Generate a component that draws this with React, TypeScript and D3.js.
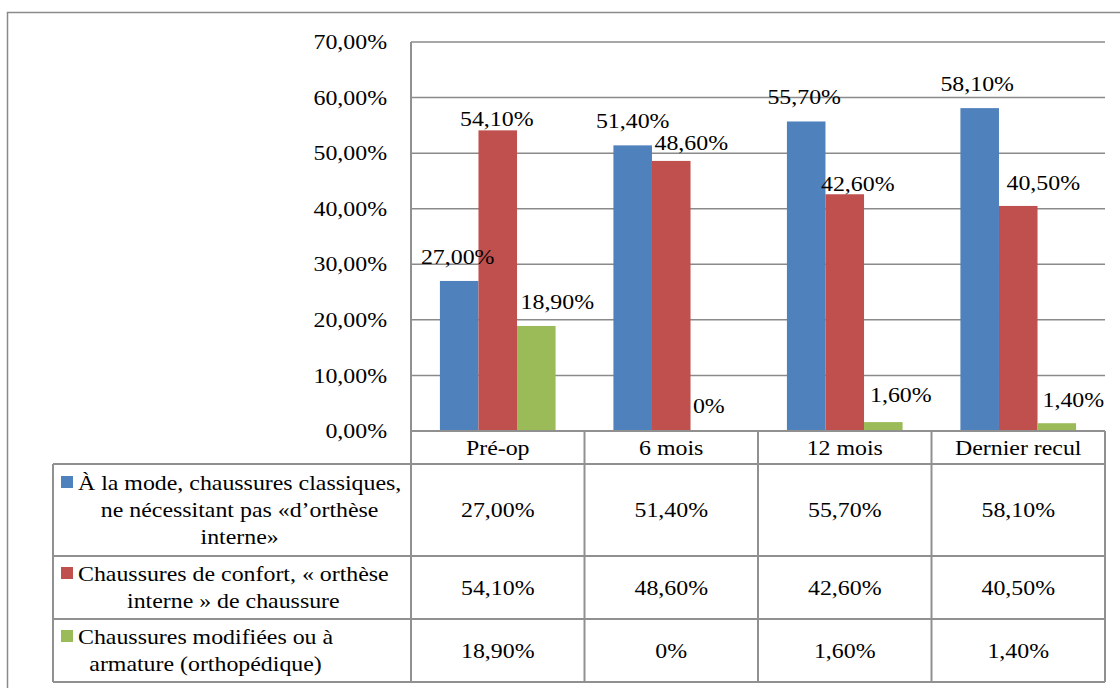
import React, { useEffect, useRef } from "react";
import * as d3 from "d3";

const categories = ["Pré-op", "6 mois", "12 mois", "Dernier recul"];
const seriesKeys = ["mode", "confort", "modifiees"];
const fashionValues = [27.0, 51.4, 55.7, 58.1];
const comfortValues = [54.1, 48.6, 42.6, 40.5];
const modifiedValues = [18.9, 0, 1.6, 1.4];
const seriesValues = [fashionValues, comfortValues, modifiedValues];
const seriesColors = ["#4F81BD", "#C0504D", "#9BBB59"];
const legendLines = [
  ["À la mode, chaussures classiques,", "ne nécessitant pas «d’orthèse", "interne»"],
  ["Chaussures de confort, « orthèse", "interne » de chaussure"],
  ["Chaussures modifiées ou à", "armature (orthopédique)"],
];
const yTicks = [0, 10, 20, 30, 40, 50, 60, 70];
// label placement tweaks (dx from bar centre, distance above bar top), as in the original
const labelOffsets = [
  [[-1.5, 24], [0, 25], [-2, 25], [-2.5, 24]],
  [[-1, 11.5], [20, 18], [13, 10], [25, 23]],
  [[21, 24], [-1, 25], [17.5, 27], [16.5, 23.5]],
];

const W = 1120;
const H = 688;
const FONT = "'Liberation Serif', 'Times New Roman', serif";
const FS = 22;
const SX = 1.085;

const fmt = (v: number) => (v === 0 ? "0%" : v.toFixed(2).replace(".", ",") + "%");

export default function App() {
  const ref = useRef<SVGSVGElement>(null);

  useEffect(() => {
    const svg = d3.select(ref.current);
    svg.selectAll("*").remove();

    const plotLeft = 411, plotRight = 1105, plotTop = 42, plotBottom = 431;
    const tableLeft = 53;
    const rowBounds = [431, 464, 556, 619, 682];
    const gridColor = "#8a8a8a";
    const tableColor = "#909090";

    const y = d3.scaleLinear().domain([0, 70]).range([plotBottom, plotTop]);
    const x = d3.scaleBand<string>().domain(categories).range([plotLeft, plotRight]);
    const xi = d3
      .scaleBand<string>()
      .domain(seriesKeys)
      .range([0, x.bandwidth()])
      .paddingInner(0)
      .paddingOuter(0.75);

    const txt = (g: any, tx: number, ty: number, s: string, anchor = "middle") =>
      g
        .append("text")
        .attr("transform", `translate(${tx},${ty}) scale(${SX},1)`)
        .attr("text-anchor", anchor)
        .attr("dominant-baseline", "central")
        .attr("font-family", FONT)
        .attr("font-size", FS)
        .attr("fill", "#000")
        .text(s);

    // outer chart border (runs off the right/bottom edges)
    svg
      .append("rect")
      .attr("x", 7.5)
      .attr("y", 12.5)
      .attr("width", W + 20)
      .attr("height", H + 20)
      .attr("fill", "none")
      .attr("stroke", "#8a8a8a")
      .attr("stroke-width", 1.5);

    // gridlines
    svg
      .append("g")
      .selectAll("line")
      .data(yTicks.filter((t) => t > 0))
      .join("line")
      .attr("x1", plotLeft)
      .attr("x2", plotRight)
      .attr("y1", (d) => y(d))
      .attr("y2", (d) => y(d))
      .attr("stroke", gridColor)
      .attr("stroke-width", 1.5);

    // y tick labels
    const yl = svg.append("g");
    yTicks.forEach((t) => txt(yl, 387, y(t), t.toFixed(2).replace(".", ",") + "%", "end"));

    // bars
    seriesValues.forEach((vals, si) => {
      svg
        .append("g")
        .selectAll("rect")
        .data(vals)
        .join("rect")
        .attr("x", (_, ci) => (x(categories[ci]) as number) + (xi(seriesKeys[si]) as number))
        .attr("width", xi.bandwidth())
        .attr("y", (d) => y(d))
        .attr("height", (d) => plotBottom - y(d))
        .attr("fill", seriesColors[si]);
    });

    // data labels
    const lg = svg.append("g");
    seriesValues.forEach((vals, si) => {
      vals.forEach((v, ci) => {
        const cx = (x(categories[ci]) as number) + (xi(seriesKeys[si]) as number) + xi.bandwidth() / 2;
        const [dx, dy] = labelOffsets[si][ci];
        txt(lg, cx + dx, y(v) - dy, fmt(v));
      });
    });

    // data table lines
    const tg = svg.append("g").attr("stroke", tableColor).attr("stroke-width", 2).attr("fill", "none");
    // axis / left vertical line
    tg.append("line").attr("x1", plotLeft).attr("x2", plotLeft).attr("y1", plotTop).attr("y2", rowBounds[4]);
    // header top (zero line)
    tg.append("line").attr("x1", plotLeft).attr("x2", plotRight).attr("y1", plotBottom).attr("y2", plotBottom);
    // row lines
    rowBounds.slice(1).forEach((ry) =>
      tg.append("line").attr("x1", tableLeft).attr("x2", plotRight).attr("y1", ry).attr("y2", ry)
    );
    // left column border
    tg.append("line").attr("x1", tableLeft).attr("x2", tableLeft).attr("y1", rowBounds[1]).attr("y2", rowBounds[4]);
    // category dividers
    categories.forEach((c, ci) => {
      if (ci === 0) return;
      const cx = x(c) as number;
      tg.append("line").attr("x1", cx).attr("x2", cx).attr("y1", rowBounds[0]).attr("y2", rowBounds[4]);
    });
    tg.append("line").attr("x1", plotRight).attr("x2", plotRight).attr("y1", rowBounds[0]).attr("y2", rowBounds[4]);

    // header labels
    const hg = svg.append("g");
    categories.forEach((c) => {
      txt(hg, (x(c) as number) + x.bandwidth() / 2, (rowBounds[0] + rowBounds[1]) / 2, c);
    });

    // table rows: legend + values
    const rg = svg.append("g");
    const lineH = 27;
    const textStart = 78;
    seriesValues.forEach((vals, si) => {
      const top = rowBounds[si + 1];
      const bot = rowBounds[si + 2];
      const mid = (top + bot) / 2;
      const lines = legendLines[si];
      const firstY = mid - ((lines.length - 1) * lineH) / 2;
      // measure lines
      const nodes = lines.map((l, li) => txt(rg, 0, firstY + li * lineH, l));
      const widths = nodes.map((n: any) => (n.node() as SVGTextElement).getComputedTextLength() * SX);
      const maxW = Math.max(...widths);
      const cxText = textStart + maxW / 2;
      nodes.forEach((n: any, li: number) =>
        n.attr("transform", `translate(${cxText},${firstY + li * lineH}) scale(${SX},1)`)
      );
      rg.append("rect")
        .attr("x", 61)
        .attr("y", firstY - 7)
        .attr("width", 12)
        .attr("height", 12)
        .attr("fill", seriesColors[si]);
      vals.forEach((v, ci) => {
        txt(rg, (x(categories[ci]) as number) + x.bandwidth() / 2, mid, fmt(v));
      });
    });
  }, []);

  return (
    <svg
      ref={ref}
      width={W}
      height={H}
      style={{ position: "absolute", left: 0, top: 0, background: "#fff" }}
    />
  );
}
